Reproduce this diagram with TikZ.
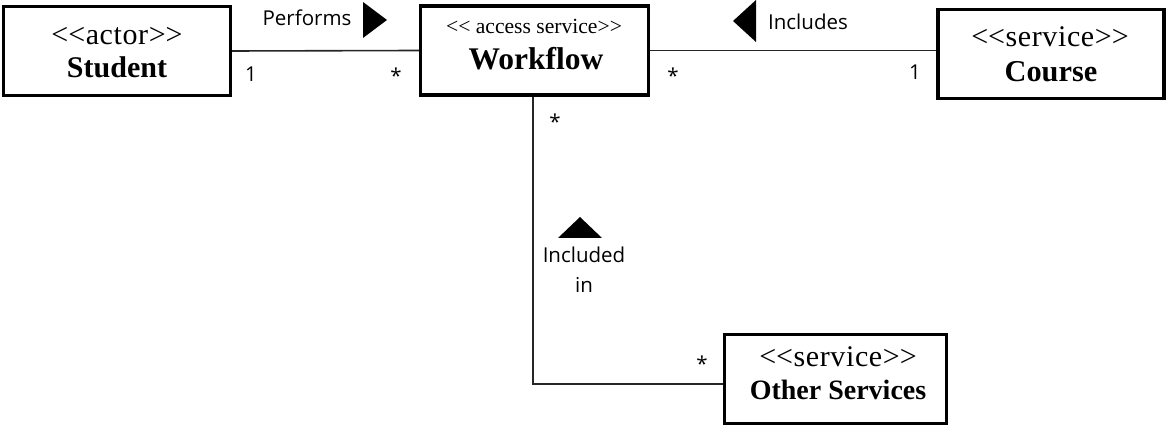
\documentclass[tikz,border=0pt]{standalone}
\usepackage{fontspec}
\setmainfont[Ligatures=NoCommon]{Liberation Serif}
\newfontfamily\labfont{Open Sans}
\newfontfamily\stfont[Ligatures=NoCommon,LetterSpace=2]{Liberation Serif}
\newcommand{\lt}{{<}\kern0pt{<}}
\newcommand{\gt}{{>}\kern0pt{>}}
\begin{document}
\begin{tikzpicture}[x=1pt,y=-1pt,
  umlbox/.style={draw=black,line width=3.2pt,minimum width=#1,minimum height=89pt,inner sep=0pt},
  stereo/.style={anchor=base,inner sep=0pt,font=\stfont\fontsize{30}{32}\selectfont},
  smallstereo/.style={anchor=base,inner sep=0pt,font=\fontsize{21.6}{23}\selectfont},
  bname/.style={anchor=base,inner sep=0pt,font=\fontsize{#1}{31}\selectfont\bfseries},
  lab/.style={anchor=base,inner sep=0pt,font=\labfont\fontsize{20.5}{22}\selectfont},
  conn/.style={draw=black!85,line width=1.6pt},
  dirtri/.style={fill=black}]
\useasboundingbox (0,0) rectangle (1168,427);
% boxes
\node[umlbox=227pt] (Student) at (117,51) {};
\node[umlbox=228pt] (Workflow) at (534.5,50.5) {};
\node[umlbox=226pt] (Course) at (1051,54) {};
\node[umlbox=222pt] (Other) at (835.5,379) {};
% box texts
\node[stereo] (stS) at (117,45) {\lt actor\gt};
\node[bname=30] (nmS) at (117,78) {Student};
\node[smallstereo] (stW) at (534,34) {\lt{} access service\gt};
\node[bname=31.5] (nmW) at (536,70) {Workflow};
\node[stereo] (stC) at (1050,47) {\lt service\gt};
\node[bname=30.3] (nmC) at (1051,82) {Course};
\node[stereo] (stO) at (838,367) {\lt service\gt};
\node[bname=28] (nmO) at (838,400) {Other Services};
% connectors
\coordinate (bend) at (533,384);
\draw[conn] (Student.east) -- (Workflow.west);
\draw[conn] (Workflow.east) -- (Workflow.east -| Course.west);
\draw[conn] (Workflow.south -| bend) -- (bend) -- (bend -| Other.west);
% direction triangles
\fill[dirtri] (363,2) -- (387,20) -- (363,38) -- cycle;
\fill[dirtri] (756,0) -- (733,21) -- (756,42) -- cycle;
\fill[dirtri] (558,238) -- (580,217) -- (602,238) -- cycle;
% labels
\node[lab] (lPerf) at (307,26) {Performs};
\node[lab] (m1) at (251,82) {1};
\node[lab] (m2) at (396,84) {*};
\node[lab] (lIncl) at (808,30) {Includes};
\node[lab] (m3) at (673,84) {*};
\node[lab] (m4) at (915,80) {1};
\node[lab] (m5) at (555,130) {*};
\node[lab] (lIn1) at (584,263) {Included};
\node[lab] (lIn2) at (584,293) {in};
\node[lab] (m6) at (702,372) {*};
\end{tikzpicture}
\end{document}
